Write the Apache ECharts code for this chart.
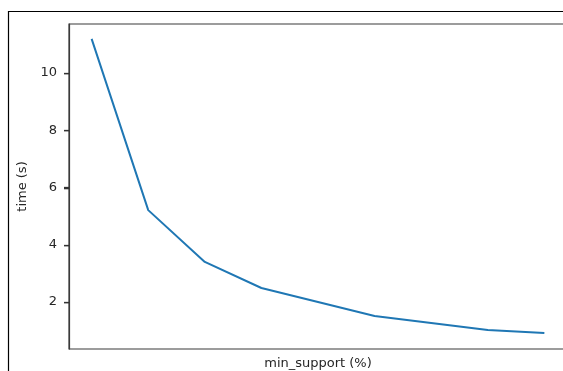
<!DOCTYPE html>
<html><head><meta charset="utf-8">
<script src="https://cdn.jsdelivr.net/npm/echarts@6/dist/echarts.min.js"></script>
<style>html,body{margin:0;padding:0;background:#fff}#c{width:563px;height:371px}</style>
</head><body><div id="c"></div>
<script>
const xIndex = [0, 1, 2, 3, 4, 5, 6, 7, 8];
const timeValues = [11.19, 5.21, 3.40, 2.49, 2.00, 1.51, 1.27, 1.02, 0.92];
const yTicks = [2, 4, 6, 8, 10];
const xName = 'min_support (%)';
const yName = 'time (s)';
const X_MIN = -0.4, X_MAX = 8.4;

const chart = echarts.init(document.getElementById('c'), null, {renderer: 'canvas'});
const font = 'DejaVu Sans';
chart.setOption({
  animation: false,
  backgroundColor: '#fff',
  graphic: [{
    type: 'rect', silent: true, z: 100,
    shape: {x: 8.5, y: 11.5, width: 700, height: 500},
    style: {fill: 'none', stroke: '#000', lineWidth: 1.2}
  }],
  grid: {left: 69, top: 24, width: 498, height: 325, show: true, borderColor: '#3a3a3a', borderWidth: 1.2,
         backgroundColor: 'transparent', containLabel: false, outerBoundsMode: 'none'},
  xAxis: {
    type: 'value', min: X_MIN, max: X_MAX,
    name: xName, nameLocation: 'middle', nameGap: 8,
    nameTextStyle: {fontFamily: font, fontSize: 13, color: '#262626', verticalAlign: 'top'},
    axisLine: {show: false, onZero: false}, axisTick: {show: false}, axisLabel: {show: false}, splitLine: {show: false}
  },
  yAxis: {
    type: 'value', min: 0.36, max: 11.71,
    name: yName, nameLocation: 'middle', nameGap: 33, nameRotate: 90,
    nameTextStyle: {fontFamily: font, fontSize: 13, color: '#262626'},
    axisLine: {show: true, onZero: false, lineStyle: {color: '#3a3a3a', width: 1.2}},
    axisTick: {show: true, inside: false, length: 5, lineStyle: {color: '#333', width: 1.3}},
    axisLabel: {fontFamily: font, fontSize: 13, color: '#262626', margin: 12,
                showMinLabel: false, showMaxLabel: false,
                formatter: v => (yTicks.indexOf(v) >= 0 ? String(v) : '')},
    splitLine: {show: false}
  },
  series: [{
    type: 'line',
    data: xIndex.map((x, i) => [x, timeValues[i]]),
    showSymbol: false, symbol: 'none',
    lineStyle: {color: '#1f77b4', width: 2},
    itemStyle: {color: '#1f77b4'}
  }, {
    type: 'custom', clip: false, silent: true, z: 10,
    data: yTicks.map(v => [X_MIN, v]),
    renderItem: (params, api) => {
      const p = api.coord([api.value(0), api.value(1)]);
      return {type: 'rect', shape: {x: Math.round(p[0]) - 5, y: Math.round(p[1]), width: 5, height: 1.3},
              style: {fill: '#333'}};
    }
  }]
});
</script></body></html>
